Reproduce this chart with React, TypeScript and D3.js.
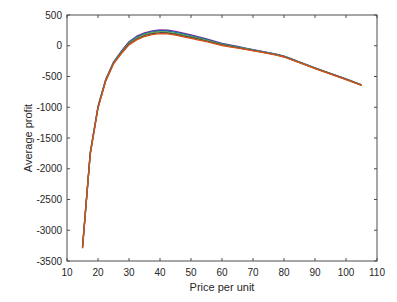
import React from "react";
import * as d3 from "d3";

const prices = [15, 17.5, 20, 22.5, 25, 27.5, 30, 32.5, 35, 37.5, 40, 42.5, 45, 47.5, 50, 52.5, 55, 57.5, 60, 62.5, 65, 67.5, 70, 72.5, 75, 77.5, 80, 82.5, 85, 87.5, 90, 92.5, 95, 97.5, 100, 102.5, 105];

const seriesTop = [-3265, -1735, -985, -545, -265, -90, 65, 155, 210, 242, 256, 252, 232, 206, 176, 143, 110, 75, 40, 13, -12, -37, -62, -87, -112, -138, -167, -215, -264, -312, -359, -405, -450, -495, -540, -587, -635];
const seriesB = [-3272, -1742, -992, -552, -272, -100, 52, 140, 195, 227, 241, 237, 217, 191, 162, 130, 99, 65, 31, 6, -18, -42, -67, -91, -116, -142, -171, -218, -267, -315, -362, -407, -452, -497, -542, -589, -637];
const seriesC = [-3280, -1750, -1000, -560, -280, -110, 40, 125, 180, 212, 226, 222, 202, 176, 148, 118, 88, 55, 22, -2, -25, -48, -72, -96, -120, -146, -175, -222, -270, -318, -365, -410, -455, -500, -545, -592, -640];
const seriesD = [-3288, -1758, -1008, -568, -288, -120, 28, 110, 165, 197, 211, 207, 187, 161, 134, 106, 77, 45, 13, -10, -32, -54, -77, -100, -124, -150, -179, -226, -273, -321, -368, -412, -457, -502, -547, -594, -642];
const seriesE = [-3295, -1765, -1015, -575, -295, -130, 15, 95, 150, 182, 196, 192, 172, 146, 120, 93, 66, 35, 4, -17, -38, -59, -82, -105, -128, -154, -183, -229, -276, -324, -371, -415, -460, -505, -550, -597, -645];

const allSeries = [seriesTop, seriesB, seriesC, seriesD, seriesE];
const colors = ["#7E2F8E", "#0072BD", "#77AC30", "#4D4D4D", "#D95319"];

const xTicks = [10, 20, 30, 40, 50, 60, 70, 80, 90, 100, 110];
const yTicks = [500, 0, -500, -1000, -1500, -2000, -2500, -3000, -3500];

const W = 397, H = 302;
const L = 67, R = 377, T = 15, B = 261;

export default function App() {
  const x = d3.scaleLinear().domain([10, 110]).range([L, R]);
  const y = d3.scaleLinear().domain([-3500, 500]).range([B, T]);
  const line = d3.line<number>().x((_, i) => x(prices[i])).y((v) => y(v));
  const font = "Arial, 'Liberation Sans', Helvetica, sans-serif";
  const axisColor = "#4d4d4d";
  const tl = 3;
  return (
    <svg width={W} height={H} style={{ position: "absolute", left: 0, top: 0, background: "#fff" }}>
      <rect x={0} y={0} width={W} height={H} fill="#fff" />
      {allSeries.map((s, k) => (
        <path key={k} d={line(s) || ""} fill="none" stroke={colors[k]} strokeWidth={1.3} strokeLinejoin="round" />
      ))}
      <rect x={L} y={T} width={R - L} height={B - T} fill="none" stroke={axisColor} strokeWidth={1} />
      {xTicks.map((t) => (
        <g key={"x" + t}>
          <line x1={x(t)} x2={x(t)} y1={B} y2={B - tl} stroke={axisColor} />
          <line x1={x(t)} x2={x(t)} y1={T} y2={T + tl} stroke={axisColor} />
          <text x={x(t)} y={275.5} fontSize={10} fontFamily={font} textAnchor="middle" fill="#262626">{t}</text>
        </g>
      ))}
      {yTicks.map((t) => (
        <g key={"y" + t}>
          <line x1={L} x2={L + tl} y1={y(t)} y2={y(t)} stroke={axisColor} />
          <line x1={R} x2={R - tl} y1={y(t)} y2={y(t)} stroke={axisColor} />
          <text x={62} y={y(t) + 3.5} fontSize={10} fontFamily={font} textAnchor="end" fill="#262626">{t}</text>
        </g>
      ))}
      <text x={(L + R) / 2} y={291} fontSize={11} fontFamily={font} textAnchor="middle" fill="#262626">Price per unit</text>
      <text transform={`translate(32,${(T + B) / 2}) rotate(-90)`} fontSize={11} fontFamily={font} textAnchor="middle" fill="#262626">Average profit</text>
    </svg>
  );
}
